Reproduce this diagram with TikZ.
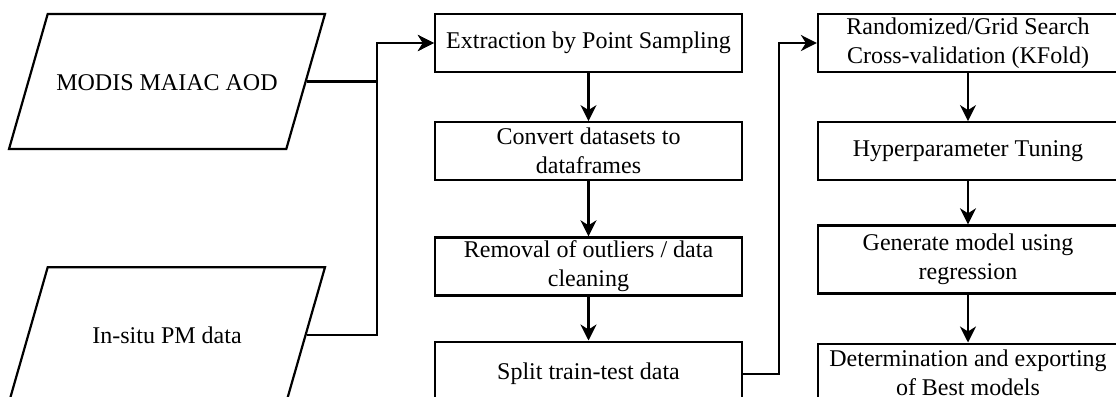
\documentclass[tikz,border=0pt]{standalone}
\usepackage{fontspec}
\setmainfont{Liberation Serif}
\usepackage{tikz}
\usetikzlibrary{positioning}
\usetikzlibrary{shapes.geometric}
\usetikzlibrary{arrows.meta}

\begin{document}
\begin{tikzpicture}[x=0.5pt,y=-0.5pt,line width=1.1pt,
    font=\fontsize{12}{14.5}\selectfont,
    databox/.style={draw,trapezium,trapezium left angle=74,trapezium right angle=106,
      trapezium stretches body=true,minimum width=158pt,text height=10pt,text depth=1pt,inner ysep=28.25pt},
    procbox/.style={draw,align=center,minimum width=153.5pt,minimum height=29pt,inner ysep=0pt},
    arr/.style={-{Stealth[length=8pt,width=8pt,inset=2.5pt]}}]
  \useasboundingbox (0,0) rectangle (1116,397);
  \clip (0,0) rectangle (1116,397);

  \node[databox] (modis) at (167,81.5) {MODIS MAIAC AOD};
  \node[databox,below=58pt of modis] (insitu) {In-situ PM data};

  \node[procbox] (ext) at (588.5,43) {Extraction by Point Sampling};
  \node[procbox,below=24pt of ext] (conv) {Convert datasets to\\dataframes};
  \node[procbox,below=27.5pt of conv] (rem) {Removal of outliers / data\\cleaning};
  \node[procbox,minimum height=32pt,below=22pt of rem] (split) {Split train-test data};

  \node[procbox,minimum width=150pt] (rand) at (968,43) {Randomized/Grid Search\\Cross-validation (KFold)};
  \node[procbox,minimum width=150pt,below=24pt of rand] (hyp) {Hyperparameter Tuning};
  \node[procbox,minimum width=150pt,minimum height=34pt,below=21.5pt of hyp] (gen) {Generate model using\\regression};
  \node[procbox,minimum width=150pt,below=24pt of gen] (best) {Determination and exporting\\of Best models};

  \coordinate (bus) at ([xshift=-28.5pt]ext.west);
  \coordinate (bus2) at ([xshift=-19pt]rand.west);

  \draw[arr] (modis.east) -| (bus) -- (ext.west);
  \draw[arr] (insitu.east) -| (bus) -- (ext.west);
  \draw[arr] (ext) -- (conv);
  \draw[arr] (conv) -- (rem);
  \draw[arr] (rem) -- (split);
  \draw[arr] (split.east) -| (bus2) -- (rand.west);
  \draw[arr] (rand) -- (hyp);
  \draw[arr] (hyp) -- (gen);
  \draw[arr] (gen) -- (best);
\end{tikzpicture}
\end{document}
